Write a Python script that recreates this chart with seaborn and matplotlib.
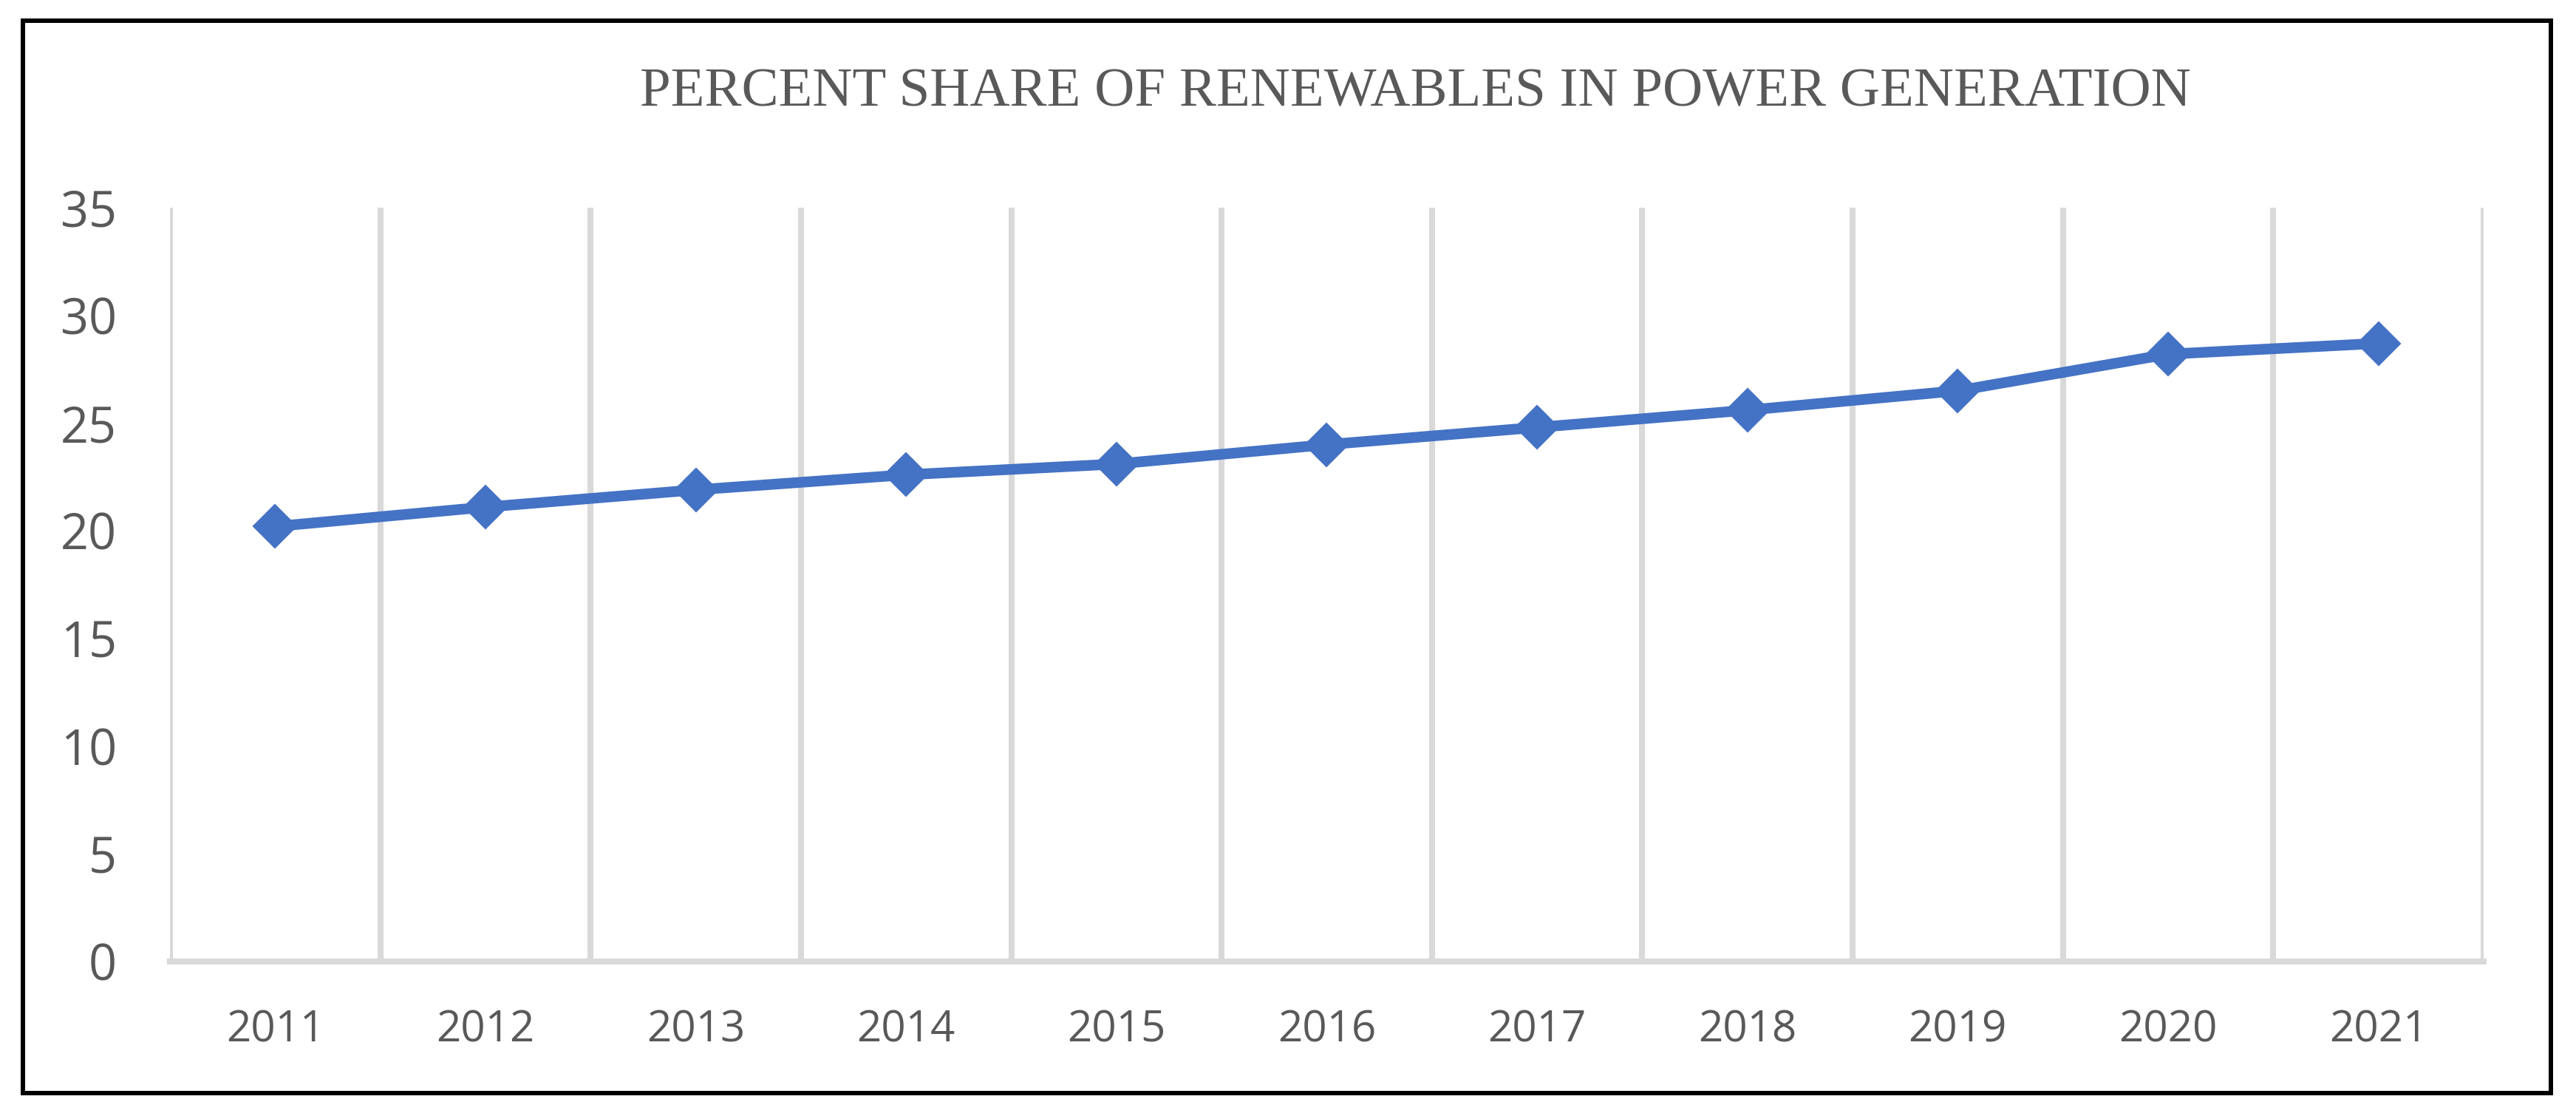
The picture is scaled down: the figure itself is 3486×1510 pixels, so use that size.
import pandas as pd
import numpy as np
import matplotlib
matplotlib.use("Agg")
import matplotlib.pyplot as plt
import seaborn as sns
from matplotlib.patches import Rectangle

# values
years = ["2011", "2012", "2013", "2014", "2015", "2016", "2017", "2018", "2019", "2020", "2021"]
share = [20.2, 21.1, 21.9, 22.6, 23.1, 24.0, 24.8, 25.6, 26.5, 28.2, 28.7]
y_ticks = [0, 5, 10, 15, 20, 25, 30, 35]
title = "PERCENT SHARE OF RENEWABLES IN POWER GENERATION"

df = pd.DataFrame({"Year": years, "Share": share})

sns.set_theme(style="white")
plt.rcParams['font.family'] = ['Open Sans', 'DejaVu Sans']

fig = plt.figure(figsize=(17.43, 7.55), dpi=200)
ax = fig.add_axes([0.0660, 0.1384, 0.9641 - 0.0660, 0.8139 - 0.1384])

sns.lineplot(data=df, x="Year", y="Share", ax=ax, color="#4472C4", linewidth=5.2,
             marker="D", markersize=15, markeredgecolor="#4472C4", sort=False)

ax.set_xlim(-0.5, len(years) - 0.5)
ax.set_ylim(0, 35)
ax.set_yticks(y_ticks)
ax.set_xticks(range(len(years)))
ax.set_xticklabels(years)

# vertical gridlines between the categories, like Excel
ax.set_xticks(np.arange(-0.5, len(years)), minor=True)
ax.grid(False)
ax.grid(which="minor", axis="x", color="#D9D9D9", linewidth=2.9)
ax.set_axisbelow(True)

for s in ["top", "right", "left"]:
    ax.spines[s].set_visible(False)
ax.spines["bottom"].set_color("#D9D9D9")
ax.spines["bottom"].set_linewidth(2.9)

ax.tick_params(axis="both", which="both", length=0)
ax.tick_params(axis="y", labelsize=24, labelcolor="#595959", pad=26)
ax.tick_params(axis="x", labelsize=21, labelcolor="#595959", pad=23)
ax.set_xlabel("")
ax.set_ylabel("")

fig.text(0.5495, 0.917, title, ha="center", va="center", fontsize=27,
         color="#595959", family=["Liberation Serif", "DejaVu Serif"])

# black frame around the whole chart
fig.patches.append(Rectangle((0.00875, 0.02086), 0.99039 - 0.00875, 0.98146 - 0.02086,
                             transform=fig.transFigure, fill=False,
                             edgecolor="black", linewidth=2.16))

fig.savefig("out.png", dpi=200, facecolor="white")
